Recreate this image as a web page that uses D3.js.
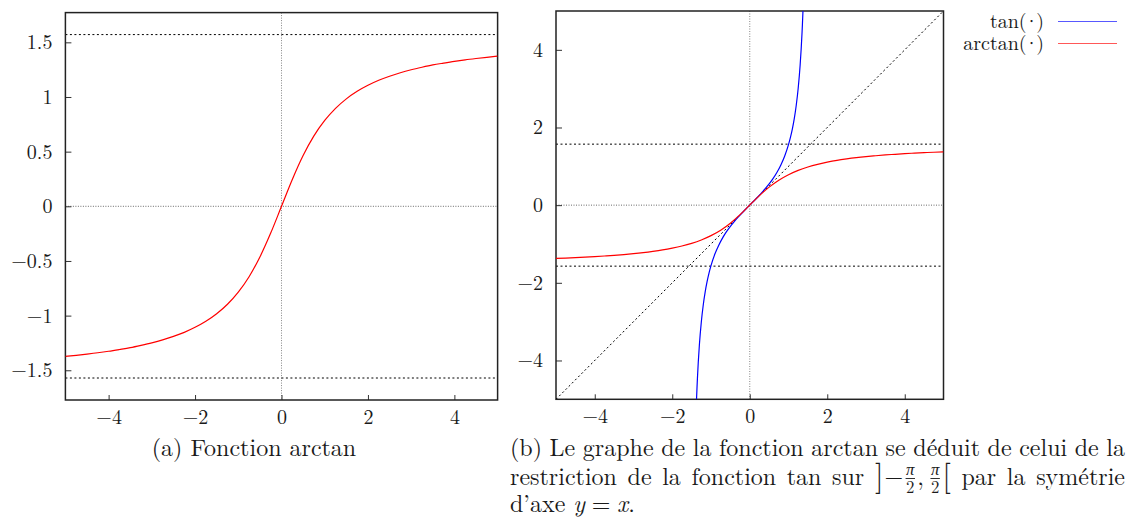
<!DOCTYPE html>
<html>
<head>
<meta charset="utf-8">
<script src="https://cdn.jsdelivr.net/npm/d3@7"></script>
<style>
  body { margin: 0; background: #fff; }
</style>
</head>
<body>
<svg id="chart" width="1128" height="520"></svg>
<script>
// arctan samples
const atanX = [-5, -4.75, -4.5, -4.25, -4, -3.75, -3.5, -3.25, -3, -2.75, -2.5, -2.25, -2, -1.75, -1.5, -1.25, -1, -0.75, -0.5, -0.25,
  0, 0.25, 0.5, 0.75, 1, 1.25, 1.5, 1.75, 2, 2.25, 2.5, 2.75, 3, 3.25, 3.5, 3.75, 4, 4.25, 4.5, 4.75, 5];
const atanY = [-1.373, -1.363, -1.352, -1.340, -1.326, -1.310, -1.293, -1.272, -1.249, -1.222, -1.190, -1.153, -1.107, -1.052, -0.983, -0.896, -0.785, -0.644, -0.464, -0.245,
  0, 0.245, 0.464, 0.644, 0.785, 0.896, 0.983, 1.052, 1.107, 1.153, 1.190, 1.222, 1.249, 1.272, 1.293, 1.310, 1.326, 1.340, 1.352, 1.363, 1.373];

// tan samples on ]-pi/2, pi/2[ (visible part, right panel)
const tanX = [-1.3734, -1.36, -1.35, -1.3, -1.25, -1.2, -1.15, -1.1, -1.05, -1, -0.9, -0.8, -0.7, -0.6, -0.5, -0.4, -0.3, -0.2, -0.1,
  0, 0.1, 0.2, 0.3, 0.4, 0.5, 0.6, 0.7, 0.8, 0.9, 1, 1.05, 1.1, 1.15, 1.2, 1.25, 1.3, 1.35, 1.36, 1.3734];
const tanY = [-5, -4.673, -4.455, -3.602, -3.010, -2.572, -2.235, -1.965, -1.743, -1.557, -1.260, -1.030, -0.842, -0.684, -0.546, -0.423, -0.309, -0.203, -0.100,
  0, 0.100, 0.203, 0.309, 0.423, 0.546, 0.684, 0.842, 1.030, 1.260, 1.557, 1.743, 1.965, 2.235, 2.572, 3.010, 3.602, 4.455, 4.673, 5];

const halfPi = 1.5708;

const xTicks = [-4, -2, 0, 2, 4];
const xTickLabels = ["−4", "−2", "0", "2", "4"];
const yTicksA = [-1.5, -1, -0.5, 0, 0.5, 1, 1.5];
const yTickLabelsA = ["−1.5", "−1", "−0.5", "0", "0.5", "1", "1.5"];
const yTicksB = [-4, -2, 0, 2, 4];
const yTickLabelsB = ["−4", "−2", "0", "2", "4"];

const legendNames = ["tan", "arctan"];
const legendColors = ["#0000ff", "#ff0000"];

const captionA = "(a) Fonction arctan";
const captionB1 = "(b) Le graphe de la fonction arctan se déduit de celui de la";
const captionB2a = "restriction de la fonction tan sur";
const captionB2b = "par la symétrie";

const FONT = '"Latin Modern Roman", "Liberation Serif", serif';
const INK = "#1a1a1a";

const svg = d3.select("#chart");

let txt = (sel, size) => sel.append("text")
  .style("font-family", FONT).attr("font-size", size).attr("fill", INK);

let panel = (id, box, xDom, yDom, yTicks, yLabels) => {
  const x = d3.scaleLinear().domain(xDom).range([box.x0, box.x1]);
  const y = d3.scaleLinear().domain(yDom).range([box.y1, box.y0]);
  const g = svg.append("g");

  g.append("clipPath").attr("id", "clip-" + id)
    .append("rect")
    .attr("x", box.x0).attr("y", box.y0)
    .attr("width", box.x1 - box.x0).attr("height", box.y1 - box.y0);

  // zero axes
  g.append("line")
    .attr("x1", x(0)).attr("x2", x(0)).attr("y1", box.y0).attr("y2", box.y1)
    .attr("stroke", "#666").attr("stroke-width", 0.8).attr("stroke-dasharray", "1,1.5");
  g.append("line")
    .attr("x1", box.x0).attr("x2", box.x1).attr("y1", y(0)).attr("y2", y(0))
    .attr("stroke", "#444").attr("stroke-width", 0.8).attr("stroke-dasharray", "1,1.5");

  // asymptotes y = ±pi/2
  g.selectAll("line.asym")
    .data([-halfPi, halfPi])
    .join("line")
    .attr("class", "asym")
    .attr("x1", box.x0).attr("x2", box.x1)
    .attr("y1", d => y(d)).attr("y2", d => y(d))
    .attr("stroke", "#000").attr("stroke-width", 1).attr("stroke-dasharray", "2,2.5");

  const xAxis = g.append("g")
    .attr("transform", `translate(0,${box.y1})`)
    .call(d3.axisBottom(x).tickValues(xTicks).tickFormat((d, i) => xTickLabels[i])
      .tickSize(-5).tickPadding(10));
  const yAxis = g.append("g")
    .attr("transform", `translate(${box.x0},0)`)
    .call(d3.axisLeft(y).tickValues(yTicks).tickFormat((d, i) => yLabels[i])
      .tickSize(-6).tickPadding(13));
  [xAxis, yAxis].forEach(a => {
    a.select(".domain").remove();
    a.selectAll("line").attr("stroke", "#333");
    a.selectAll("text").attr("font-size", 20).attr("fill", INK)
      .style("font-family", FONT);
  });

  g.append("rect")
    .attr("x", box.x0).attr("y", box.y0)
    .attr("width", box.x1 - box.x0).attr("height", box.y1 - box.y0)
    .attr("fill", "none").attr("stroke", "#222").attr("stroke-width", 1.5);

  const plot = g.append("g").attr("clip-path", `url(#clip-${id})`);
  return {x, y, plot};
};

const line = (x, y) => d3.line().x(d => x(d[0])).y(d => y(d[1])).curve(d3.curveMonotoneX);

// (a) arctan alone
const A = panel("a", {x0: 65.4, x1: 497.6, y0: 12.6, y1: 400}, [-5, 5], [-1.772, 1.772], yTicksA, yTickLabelsA);
A.plot.append("path")
  .datum(d3.zip(atanX, atanY))
  .attr("fill", "none").attr("stroke", "#ff0000").attr("stroke-width", 1.2)
  .attr("d", line(A.x, A.y));

// (b) tan, arctan and y = x
const B = panel("b", {x0: 556, x1: 943.5, y0: 11, y1: 399.3}, [-5, 5], [-5, 5], yTicksB, yTickLabelsB);
B.plot.append("path")
  .datum([[-5, -5], [5, 5]])
  .attr("fill", "none").attr("stroke", "#000").attr("stroke-width", 1).attr("stroke-dasharray", "2,2.5")
  .attr("d", d3.line().x(d => B.x(d[0])).y(d => B.y(d[1])));
B.plot.append("path")
  .datum(d3.zip(tanX, tanY))
  .attr("fill", "none").attr("stroke", legendColors[0]).attr("stroke-width", 1.2)
  .attr("d", line(B.x, B.y));
B.plot.append("path")
  .datum(d3.zip(atanX, atanY))
  .attr("fill", "none").attr("stroke", legendColors[1]).attr("stroke-width", 1.2)
  .attr("d", line(B.x, B.y));

// legend: "name(·)" with a tight centred dot
const leg = svg.append("g").selectAll("g")
  .data(legendNames)
  .join("g")
  .attr("transform", (d, i) => `translate(0,${21.5 + i * 22})`);
leg.each(function(d) {
  const t = txt(d3.select(this), 20).attr("x", 1044).attr("y", 6).attr("text-anchor", "end");
  t.append("tspan").text(d + "(");
  t.append("tspan").attr("dx", -3).text("·");
  t.append("tspan").attr("dx", -3).text(")");
});
leg.append("line")
  .attr("x1", 1058).attr("x2", 1117)
  .attr("stroke", (d, i) => legendColors[i]).attr("stroke-width", 1.2).attr("opacity", 0.65);

// ---- captions: each line is one text, pieces measured then justified like LaTeX
const CS = 24;
const SPACE = 0.333 * CS;
const cap = svg.append("g");

const probe = txt(svg, CS).attr("visibility", "hidden");
let measure = (t, size, italic) => {
  probe.attr("font-size", size).style("font-style", italic ? "italic" : "normal").text(t);
  return probe.node().getComputedTextLength();
};

// piece: {t, size, dy, italic, pad}  or  {frac: [num, den]}  or GAP
const GAP = "gap";
let widthOf = p => {
  if (p === GAP) return SPACE;
  if (p.frac) {
    const fs = 0.7 * CS;
    p.inner = Math.max(measure(p.frac[0], fs, true), measure(p.frac[1], fs, false));
    return p.inner + 0.24 * CS;
  }
  return measure(p.t, p.size || CS, p.italic) + (p.pad || 0);
};

let setLine = (parts, x0, y, x1) => {
  const ws = parts.map(widthOf);
  const gaps = parts.filter(p => p === GAP).length;
  const natural = d3.sum(ws);
  const sp = x1 != null && gaps ? SPACE + (x1 - x0 - natural) / gaps : SPACE;
  const t = txt(cap, CS).attr("y", y);
  let x = x0;
  parts.forEach((p, i) => {
    if (p === GAP) { x += sp; return; }
    if (p.frac) {
      const cx = x + ws[i] / 2;
      t.append("tspan").attr("x", cx).attr("y", y - 0.394 * CS).attr("font-size", 0.7 * CS)
        .attr("text-anchor", "middle").style("font-style", "italic").text(p.frac[0]);
      t.append("tspan").attr("x", cx).attr("y", y + 0.345 * CS).attr("font-size", 0.7 * CS)
        .attr("text-anchor", "middle").text(p.frac[1]);
      cap.append("line").attr("x1", cx - p.inner / 2 - 0.5).attr("x2", cx + p.inner / 2 + 0.5)
        .attr("y1", y - 0.25 * CS).attr("y2", y - 0.25 * CS).attr("stroke", INK).attr("stroke-width", 0.9);
    } else {
      const s = t.append("tspan").attr("x", x).attr("y", y + (p.dy || 0))
        .attr("font-size", p.size || CS).text(p.t);
      if (p.italic) s.style("font-style", "italic");
    }
    x += ws[i];
  });
  return x;
};
let words = (s) => s.split(" ").flatMap((w, i) => i ? [GAP, {t: w}] : [{t: w}]);

// (a)
const wa = words(captionA);
const natA = d3.sum(wa.map(widthOf));
setLine(wa, 254 - natA / 2, 456);

// (b) line 1
setLine(words(captionB1), 510, 456, 1125);

// (b) line 2 with ]-pi/2, pi/2[
setLine([
  ...words(captionB2a), GAP,
  {t: "]", size: 31, dy: 1.5, pad: 1},
  {t: "−"},
  {frac: ["π", "2"]},
  {t: ",", pad: 0.167 * CS},
  {frac: ["π", "2"]},
  {t: "[", size: 31, dy: 1.5},
  GAP, ...words(captionB2b)
], 510, 484.5, 1125);

// (b) line 3
setLine([
  {t: "d’axe"}, GAP,
  {t: "y", italic: true, pad: 0.278 * CS},
  {t: "=", pad: 0.278 * CS},
  {t: "x", italic: true},
  {t: "."}
], 510, 512);

probe.remove();
</script>
</body>
</html>
